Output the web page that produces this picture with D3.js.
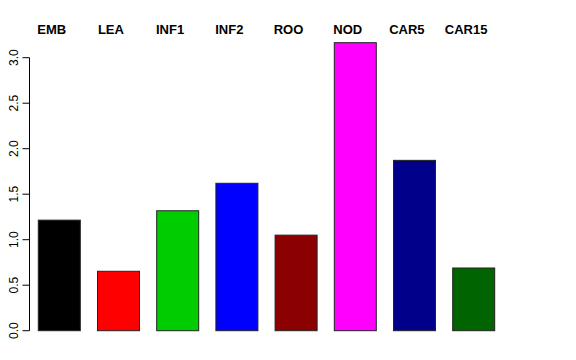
<!DOCTYPE html>
<html>
<head>
<meta charset="UTF-8" />
<script src="https://d3js.org/d3.v7.min.js"></script>
<style>
  body { margin: 0; background: #fff; }
  svg { display: block; font-family: "Liberation Sans", Arial, sans-serif; }
</style>
</head>
<body>
<div id="chart"></div>
<script>
const categories = ['EMB', 'LEA', 'INF1', 'INF2', 'ROO', 'NOD', 'CAR5', 'CAR15'];
const values = [1.215, 0.653, 1.318, 1.62, 1.05, 3.165, 1.872, 0.689];
const barColors = ['#000000', '#ff0000', '#00cd00', '#0000ff', '#8b0000', '#ff00ff', '#00008b', '#006400'];
const yTicks = [0, 0.5, 1, 1.5, 2, 2.5, 3];

const width = 576, height = 360;
const svg = d3.select('#chart').append('svg').attr('width', width).attr('height', height);

// slot 59.2px, bar 42px, first bar at 38.3
const x = d3.scaleBand().domain(categories).range([38.3, 494.7]).paddingInner(17.2 / 59.2).paddingOuter(0);
const y = d3.scaleLinear().domain([0, 3]).range([330.7, 57.7]);

svg.append('g').selectAll('rect')
  .data(categories)
  .join('rect')
  .attr('x', d => x(d))
  .attr('width', x.bandwidth())
  .attr('y', (d, i) => y(values[i]))
  .attr('height', (d, i) => y(0) - y(values[i]))
  .attr('fill', (d, i) => barColors[i])
  .attr('stroke', '#222')
  .attr('stroke-width', 1);

// y axis, R style
const axis = svg.append('g').attr('transform', 'translate(29.5,0)');
axis.append('line').attr('y1', y(0)).attr('y2', y(3)).attr('stroke', '#000');
axis.selectAll('.tick').data(yTicks).join('line')
  .attr('x1', -7).attr('x2', 0)
  .attr('y1', d => y(d)).attr('y2', d => y(d))
  .attr('stroke', '#000');
axis.selectAll('text').data(yTicks).join('text')
  .attr('transform', d => `translate(-12,${y(d)}) rotate(-90)`)
  .attr('text-anchor', 'middle')
  .attr('font-size', 12)
  .text(d => d.toFixed(1));

// category labels on top
svg.append('g').selectAll('text')
  .data(categories)
  .join('text')
  .attr('x', d => x(d) + x.bandwidth() / 2 - 7.6)
  .attr('y', 34)
  .attr('text-anchor', 'middle')
  .attr('font-size', 13)
  .attr('font-weight', 'bold')
  .text(d => d);
</script>
</body>
</html>
